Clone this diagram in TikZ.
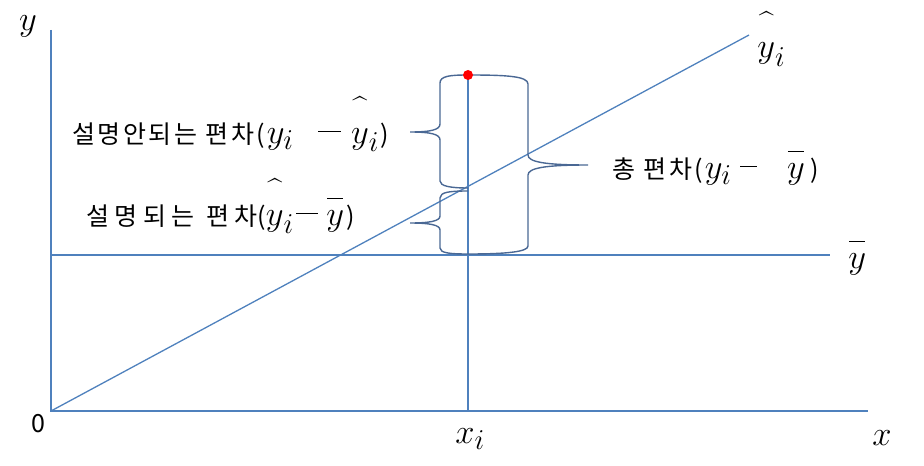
\documentclass[tikz,border=0pt]{standalone}
\usepackage{fontspec}
\usepackage{amsmath}
\newfontfamily\kr[LetterSpace=10]{Noto Sans CJK KR}
\newfontfamily\krw[LetterSpace=22]{Noto Sans CJK KR}
\definecolor{ln}{HTML}{4F81BD}
\definecolor{brc}{HTML}{4A6894}
\newcommand\K[1]{{\fontsize{12.5}{14}\selectfont\kr #1}}
\newcommand\KW[1]{{\fontsize{12.5}{14}\selectfont\krw #1}}
\newcommand\hy{\overset{\raisebox{3pt}{\fontsize{13}{13}\selectfont\^{}}}{y}}
\newcommand\by{\overset{\raisebox{2pt}{\rule{8pt}{0.7pt}}}{y}}
\newcommand\dsh[1]{\rule[5.5pt]{#1}{0.7pt}}
\begin{document}
\begin{tikzpicture}[x=0.5pt,y=-0.5pt,
  axisline/.style={draw=ln,line width=0.65pt},
  bracepath/.style={draw=brc,line width=0.7pt},
  lbl/.style={inner sep=0,font=\fontsize{19}{22}\selectfont}]
\useasboundingbox (0,0) rectangle (924,465);
\coordinate (O) at (51,411);
\coordinate (ytop) at (51,30);
\coordinate (xend) at (868,411);
\coordinate (ybL) at (51,255);
\coordinate (ybR) at (830,255);
\coordinate (xiB) at (468,411);
\coordinate (obs) at (468,75);
\coordinate (fitend) at (749,35);
% axes and lines
\draw[axisline] (ytop) -- (O) -- (xend);
\draw[axisline] (ybL) -- (ybR);
\draw[axisline] (O) -- (fitend);
\draw[axisline] (xiB) -- (obs);
% braces
\draw[bracepath] (468,75) .. controls (450,75) and (440,76) .. (440,83) -- (440,124)
  .. controls (440,130) and (430,132) .. (410,132)
  .. controls (430,132) and (440,134) .. (440,140) -- (440,181)
  .. controls (440,186) and (450,188) .. (468,188);
\draw[bracepath] (468,191) .. controls (450,191) and (440,192) .. (440,198) -- (440,216)
  .. controls (440,221) and (430,223) .. (410,223)
  .. controls (430,223) and (440,225) .. (440,230) -- (440,248)
  .. controls (440,253) and (450,254) .. (468,254);
\draw[bracepath] (468,75) .. controls (505,75) and (528,76) .. (528,84) -- (528,155)
  .. controls (528,162) and (545,165) .. (588,165)
  .. controls (545,165) and (528,168) .. (528,175) -- (528,246)
  .. controls (528,252) and (505,254) .. (468,254);
\fill[red] (obs) circle (5);
% labels
\node[lbl,anchor=base] (ylab) at (28,31) {$y$};
\node[lbl,anchor=base west] (xlab) at (872,445) {$x$};
\node[lbl,anchor=base west] (xilab) at (455,443) {$x_i$};
\node[inner sep=0,anchor=base] (zero) at (38,432) {\K{0}};
\node[lbl,anchor=base west] (yhatlab) at (757,58) {$\hy_i$};
\node[lbl,anchor=base west] (ybarlab) at (848,268) {$\by$};
\node[lbl,anchor=base west] (l1) at (72,143)
  {\K{설명안되는 편차(}\hspace{1pt}$y_i$\hspace{12pt}\dsh{11.5pt}\hspace{5pt}$\hy_i$\hspace{0.5pt}\K{)}};
\node[lbl,anchor=base west] (l2) at (86,225)
  {\KW{설명되는 편차}\K{(}$\hy_i$\hspace{1pt}\dsh{11pt}\hspace{4pt}$\by$\hspace{1pt}\K{)}};
\node[lbl,anchor=base west] (l3) at (612,178)
  {\K{총 편차(}\hspace{1pt}$y_i$\hspace{4pt}\dsh{8.5pt}\hspace{15pt}$\by$\hspace{3pt}\K{)}};
\end{tikzpicture}
\end{document}
